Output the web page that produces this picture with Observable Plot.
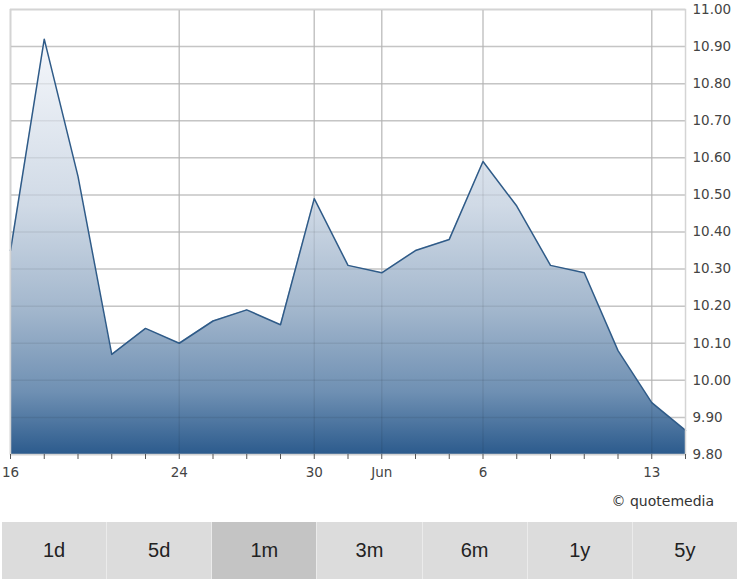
<!DOCTYPE html>
<html><head><meta charset="utf-8">
<script src="https://cdn.jsdelivr.net/npm/d3@7"></script>
<script src="https://cdn.jsdelivr.net/npm/@observablehq/plot@0.6"></script>
<style>
body{margin:0;background:#fff;width:741px;height:585px;overflow:hidden;font-family:"DejaVu Sans",sans-serif;position:relative;}
#chart{position:absolute;left:0;top:0}
#credit{position:absolute;right:27px;top:493px;font-size:14px;color:#333;font-family:"DejaVu Sans",sans-serif;}
#buttons{position:absolute;left:2px;top:522px;width:735px;height:57px;display:flex;}
.btn{flex:1;background:#dcdcdc;border-right:1px solid #ebebeb;font-family:"Liberation Sans",Arial,sans-serif;font-size:20px;color:#222;display:flex;align-items:center;justify-content:center}
.btn:last-child{border-right:none}
.btn.sel{background:#c4c4c4}
</style>
</head><body>
<div id="chart"></div>
<div id="credit">© quotemedia</div>
<div id="buttons"></div>
<script>
// Closing prices, one per trading day (left to right)
const prices = [10.35, 10.92, 10.55, 10.07, 10.14, 10.10, 10.16, 10.19, 10.15, 10.49, 10.31,
                10.29, 10.35, 10.38, 10.59, 10.47, 10.31, 10.29, 10.08, 9.94, 9.865];
// Labelled x ticks: trading-day index and label
const tickIndex = [0, 5, 9, 11, 14, 19];
const tickText  = ["16", "24", "30", "Jun", "6", "13"];
// Y axis ticks
const yTicks = [9.8, 9.9, 10.0, 10.1, 10.2, 10.3, 10.4, 10.5, 10.6, 10.7, 10.8, 10.9, 11.0];
const yDomain = [9.8, 11.0];
// Range buttons
const buttons = ["1d", "5d", "1m", "3m", "6m", "1y", "5y"];
const selected = "1m";

const data = prices.map((v, i) => ({i, v}));
const allIdx = prices.map((_, i) => i);
const labelOf = new Map(tickIndex.map((t, k) => [t, tickText[k]]));

const defsMark = () => {
  const g = d3.create("svg:defs");
  const lg = g.append("linearGradient").attr("id", "qmGrad")
    .attr("x1", 0).attr("y1", 0).attr("x2", 0).attr("y2", 1);
  [["0%", "#f5f7fb"], ["40%", "#d0dae6"], ["65%", "#a3b7cd"], ["85%", "#6f90b3"], ["100%", "#2c5b8d"]]
    .forEach(([o, c]) => lg.append("stop").attr("offset", o).attr("stop-color", c));
  return g.node();
};

const chart = Plot.plot({
  width: 741, height: 486,
  marginLeft: 10, marginRight: 56, marginTop: 9, marginBottom: 32,
  x: {type: "linear", domain: [0, prices.length - 1], label: null},
  y: {domain: yDomain, label: null},
  style: {fontFamily: "DejaVu Sans, sans-serif", fontSize: "13.5px", color: "#444", background: "#fff", overflow: "visible"},
  marks: [
    defsMark,
    Plot.ruleY(yTicks, {stroke: "#d4d4d4", strokeWidth: 1.5}),
    Plot.ruleX(tickIndex, {stroke: "#d4d4d4", strokeWidth: 1.5}),
    Plot.areaY(data, {x: "i", y1: yDomain[0], y2: "v", fill: "url(#qmGrad)"}),
    Plot.ruleY(yTicks, {stroke: "#000", strokeOpacity: 0.07, strokeWidth: 1.5}),
    Plot.ruleX(tickIndex, {stroke: "#000", strokeOpacity: 0.07, strokeWidth: 1.5}),
    Plot.lineY(data, {x: "i", y: "v", stroke: "#2f5b88", strokeWidth: 1.5}),
    Plot.frame({stroke: "#d4d4d4", strokeWidth: 1.5}),
    Plot.axisX({ticks: allIdx, tickSize: 5, tickPadding: 8, stroke: "#555", label: null,
      tickFormat: i => labelOf.get(i) ?? "", fill: "#444"}),
    Plot.axisY({anchor: "right", ticks: yTicks, tickSize: 0, tickPadding: 7, label: null,
      tickFormat: d => d.toFixed(2), fill: "#444"})
  ]
});
document.getElementById("chart").appendChild(chart);

const bw = document.getElementById("buttons");
buttons.forEach(b => {
  const d = document.createElement("div");
  d.className = "btn" + (b === selected ? " sel" : "");
  d.textContent = b;
  bw.appendChild(d);
});
</script>
</body></html>
